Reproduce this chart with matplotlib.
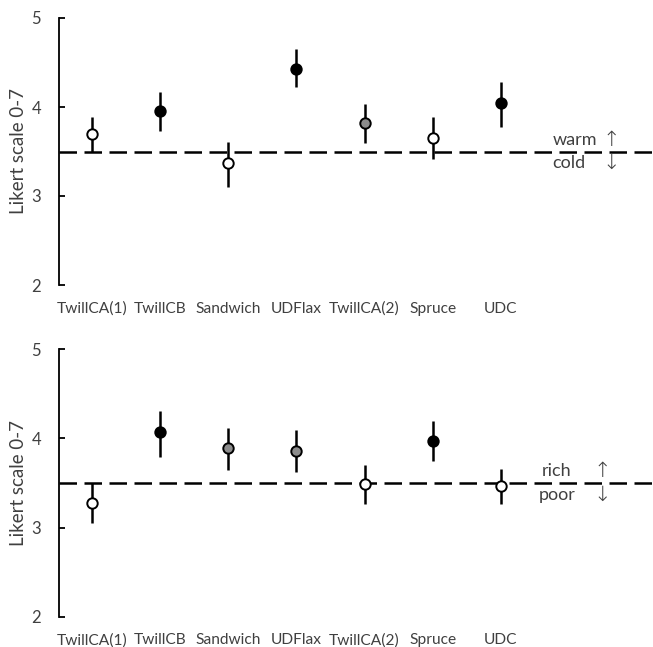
import matplotlib
matplotlib.use("Agg")
import matplotlib.pyplot as plt
import numpy as np

categories = ["TwillCA(1)", "TwillCB", "Sandwich", "UDFlax", "TwillCA(2)", "Spruce", "UDC"]

# Top panel (warm / cold)
warm_mean = [3.70, 3.96, 3.37, 4.43, 3.82, 3.655, 4.04]
warm_low = [3.50, 3.73, 3.105, 4.22, 3.59, 3.415, 3.775]
warm_high = [3.89, 4.165, 3.61, 4.65, 4.03, 3.89, 4.28]
warm_fill = ["white", "black", "white", "black", "gray", "white", "black"]

# Bottom panel (rich / poor)
rich_mean = [3.28, 4.07, 3.895, 3.857, 3.487, 3.97, 3.47]
rich_low = [3.05, 3.79, 3.645, 3.62, 3.26, 3.745, 3.26]
rich_high = [3.50, 4.31, 4.12, 4.09, 3.70, 4.19, 3.66]
rich_fill = ["white", "black", "gray", "gray", "white", "black", "white"]

neutral = 3.5
yticks = [2, 3, 4, 5]

fill_colors = {"white": "white", "black": "black", "gray": "#8c8c8c"}
txt_color = "#404040"
fam = ["Lato", "DejaVu Sans"]

W, H = 653, 647
fig = plt.figure(figsize=(W / 100, H / 100), dpi=100)

def px_axes(x0, y_top, y_bot):
    return fig.add_axes([x0 / W, 1 - y_bot / H, (W - x0) / W, (y_bot - y_top) / H])

ax1 = px_axes(59, 18, 285)
ax2 = px_axes(59, 349.3, 616.7)

def draw(ax, mean, low, high, fills, up_txt, down_txt, txt_x, txt_ha, arrow_x):
    x = np.arange(len(categories))
    mean = np.array(mean); low = np.array(low); high = np.array(high)
    ax.axhline(neutral, color="black", lw=1.8, dashes=(7, 3), zorder=1)
    ax.errorbar(x, mean, yerr=[mean - low, high - mean], fmt="none",
                ecolor="black", elinewidth=1.8, capsize=0, zorder=2)
    for xi, m, f in zip(x, mean, fills):
        ax.plot(xi, m, "o", ms=7.5, mfc=fill_colors[f], mec="black", mew=1.4, zorder=3)
    ax.set_xlim(-0.48, 8.23)
    ax.set_ylim(2, 5)
    ax.set_yticks(yticks)
    ax.set_xticks(x)
    ax.set_xticklabels(categories, fontsize=11.2, color=txt_color, family=fam)
    ax.set_yticklabels([str(t) for t in yticks], fontsize=12, color=txt_color, family=fam)
    ax.tick_params(axis="y", direction="in", length=4.5, width=1.3, pad=13)
    ax.tick_params(axis="x", length=0, pad=12)
    for s in ["top", "right", "bottom"]:
        ax.spines[s].set_visible(False)
    ax.spines["left"].set_linewidth(1.3)
    ax.set_ylabel("Likert scale 0-7", fontsize=13.5, color=txt_color, family=fam, labelpad=3)
    ax.text(txt_x, neutral + 0.13, up_txt, ha=txt_ha, va="center", fontsize=13,
            color=txt_color, family=fam)
    ax.text(txt_x, neutral - 0.13, down_txt, ha=txt_ha, va="center", fontsize=13,
            color=txt_color, family=fam)
    ax.text(arrow_x, neutral + 0.13, "\u2191", ha="center", va="center", fontsize=15,
            color=txt_color, family=["DejaVu Sans"], fontweight="light")
    ax.text(arrow_x, neutral - 0.13, "\u2193", ha="center", va="center", fontsize=15,
            color=txt_color, family=["DejaVu Sans"], fontweight="light")

draw(ax1, warm_mean, warm_low, warm_high, warm_fill, "warm", "cold", 6.76, "left", 7.62)
draw(ax2, rich_mean, rich_low, rich_high, rich_fill, "rich", "poor", 6.82, "center", 7.48)

fig.savefig("out.png", dpi=100)
